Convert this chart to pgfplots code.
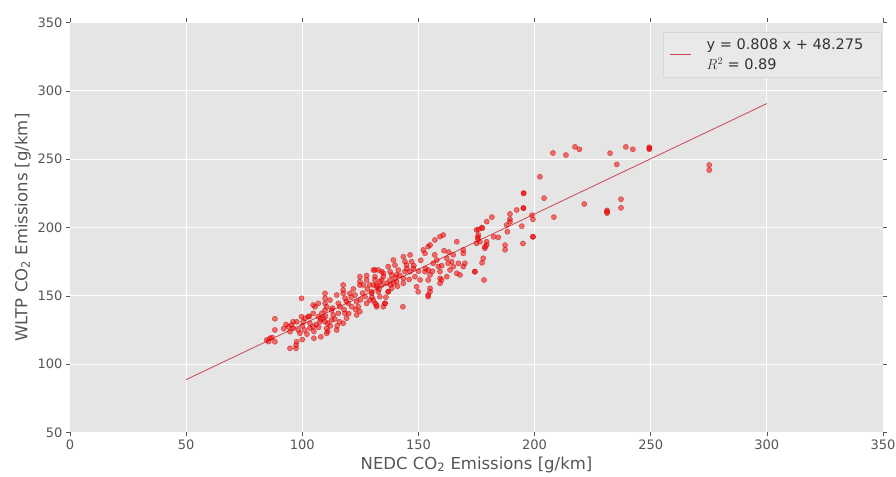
\documentclass[border=0pt]{standalone}
\usepackage{fontspec}
\setmainfont{DejaVu Sans}
\usepackage{pgfplots}
\pgfplotsset{compat=1.18}
\definecolor{bg}{HTML}{E5E5E5}
\definecolor{tk}{HTML}{555555}
\definecolor{legtxt}{HTML}{333333}
\definecolor{fitc}{RGB}{205,70,80}
\definecolor{legfill}{HTML}{E9E9E9}
\definecolor{legdraw}{HTML}{D6D6D6}
\pgfplotstableread{
x y
207.9 254.5
213.5 253
217.4 259
219.3 257.2
232.5 254.4
235.4 246.2
239.3 259
242.3 257.2
249.4 258.7
249.4 257.2
249.4 258
202.3 237.1
204.1 221.5
221.4 217.2
208.3 207.6
231.2 212.5
231.2 210.5
231.2 211.5
237.2 220.7
237.2 214.4
275.2 245.7
275.2 242
195.3 225.1
195.3 225.1
195.2 214.2
195.2 214.2
192.3 212.8
199.3 193.2
199.3 193.2
198.9 209
199.3 206
189.4 209.9
189.4 206.1
189.4 204.2
188 201.8
188.3 196.9
194.5 201
187.3 187.1
187.3 183.7
195 188.3
178.2 161.6
181.6 207.6
179.4 204.3
177.3 200
175.7 198.5
177.5 199.4
182.4 193.2
184.4 192.8
179.4 189.6
179.4 187.2
178.6 184.8
177.9 177.5
177.4 174.2
174.3 167.6
175.6 193
175.6 191.5
175.8 194.5
175 188.4
176.5 189.6
178.6 186
130.6 168.9
131.3 164
130.6 157.9
132 156.7
129.9 151.8
132.7 168.9
134.2 167.7
134.9 164
134.2 161.6
133.4 160.4
131.3 144.5
132 142
134.9 142
135.6 144.5
130.6 146.9
137 171.4
137.8 167.7
138.5 165.3
137.8 161.6
139.2 159.2
138.5 155.5
137 153
139.2 176.2
139.9 172.5
141.3 168.9
140.6 165.3
140.6 160.4
143.5 178.6
144.2 175
144.9 172.5
144.2 167.7
143.5 162.8
143.5 159.2
146.4 179.9
147.1 175
147.8 170.1
146.4 167.7
148.5 164
143.3 142
149.2 156.7
149.9 153
150.7 161.6
152.1 183.6
152.8 181.1
154.2 186
155 187.2
152.8 167.7
154.2 168.9
155 165.3
154.2 161.6
155 155.5
154.2 149.4
154.2 150.6
155 153
157.1 190.9
159.3 193.3
160.7 194.5
156.4 173.8
157.9 176.2
158.6 171.4
159.3 167.7
159.3 162.8
159.3 159.2
160 161.6
162.2 177.5
162.8 173.8
164.3 175
165 171.4
163.6 168.9
162.2 164
166.5 189.6
166.5 166.5
167.9 165.3
167.2 173.8
169.3 183.6
169.3 181.1
170 173.8
169.3 171.4
174.3 167.7
175 198.2
88.2 133.2
88.2 125
84.7 117.7
86.1 118.9
88.2 116.4
87 119.5
85.5 116.5
94 127.4
95.4 128.6
96.1 126.2
94.7 123.8
97.6 131
98.3 125
99 122.6
94.7 111.6
97.3 113.9
97.3 111.6
97.6 116.4
99.7 148.2
99.7 134.7
101.2 133.6
100.4 131
103.3 129.9
103.3 126.3
104.7 127.4
102.6 134.7
104.7 137.2
105.5 142
106.9 144.5
104.7 143.3
106.9 134.7
108.4 137.2
109 133.6
109.8 131
107.6 131
109.8 151.8
109.8 148.2
109.8 144.5
110.5 142
109.8 139.6
110.5 126.3
110.5 122.6
111.9 146.9
112.6 139.6
113.3 136
112.6 132.3
114.8 150.6
115.5 144.5
116.2 142
115.5 137.2
114.8 125
117.6 157.9
117.6 154.2
117.6 151.8
118.4 148.2
118.4 137.2
117.6 129.9
119.1 133.6
119.8 144.5
120.5 151.8
121.3 142
122.7 150.6
123.4 145.7
124.1 142
124.8 138.4
123.4 136
124.8 164
124.8 160.4
124.8 157.9
126.3 157.9
127.7 161.6
127.7 164.8
127 149.4
127.7 144.5
129.1 146.9
129.9 153
131.3 161.6
132 157.9
132.7 153
133.4 149.4
132 143.3
134.2 157.9
136.3 159.2
137 153
135.6 144.5
131.3 168.9
134.9 166.5
92 126
93 129
96 131
100 128
101 125
102 122
105 124
106 129
107 127
108 133
110 135
111 130
112 128
113 141
114 133
116 131
118 140
119 146
120 137
121 149
122 155
123 140
125 147
126 152
128 155
129 158
130 149
133 155
136 149
138 158
140 163
141 157
142 165
145 170
146 162
148 172
150 168
151 176
153 170
156 168
157 180
160 172
161 183
163 182
165 180
105 119
108 120
100 118
103 135
111 124
115 128
}\scatterdata
\begin{document}
\begin{tikzpicture}
\begin{axis}[
  width=813pt, height=410pt, scale only axis,
  xmin=0, xmax=350, ymin=50, ymax=350,
  xtick={0,50,...,350}, ytick={50,100,...,350},
  axis background/.style={fill=bg},
  grid=major, major grid style={white, line width=1pt},
  axis line style={draw=none},
  tick align=outside, tick pos=both, major tick length=4pt,
  tick style={tk, line width=0.6pt},
  ticklabel style={font=\fontsize{13}{15}\selectfont, text=tk},
  /pgf/number format/assume math mode=true,
  xlabel={NEDC CO\textsubscript{2} Emissions [g/km]},
  ylabel={WLTP CO\textsubscript{2} Emissions [g/km]},
  label style={font=\fontsize{16.5}{19}\selectfont, text=tk},
  legend image code/.code={\draw[#1] (0pt,0pt) -- (21pt,0pt); \path (34pt,0pt);},
  legend style={at={(0.729,0.976)}, anchor=north west, fill=legfill, draw=legdraw,
    font=\fontsize{14.5}{20}\selectfont, text=legtxt, cells={align=left},
    inner xsep=7pt, inner ysep=4pt},
]
\coordinate (bl) at (rel axis cs:0,0);
\coordinate (tr) at (rel axis cs:1,1);
\addplot[only marks, mark=*, mark size=2.6pt,
  mark options={fill=red, draw=red!70!black, fill opacity=0.55, draw opacity=0.6}, forget plot]
  table[x=x, y=y] {\scatterdata};
\addplot[fitc, line width=0.8pt] coordinates {(50,88.675) (300,290.675)};
\addlegendentry{y = 0.808 x + 48.275\hspace*{9pt}\\$R^2$ = 0.89}
\end{axis}
\pgfresetboundingbox
\path ([xshift=-70pt,yshift=-44.5pt]bl) rectangle ([xshift=13pt,yshift=22.5pt]tr);
\end{tikzpicture}
\end{document}
